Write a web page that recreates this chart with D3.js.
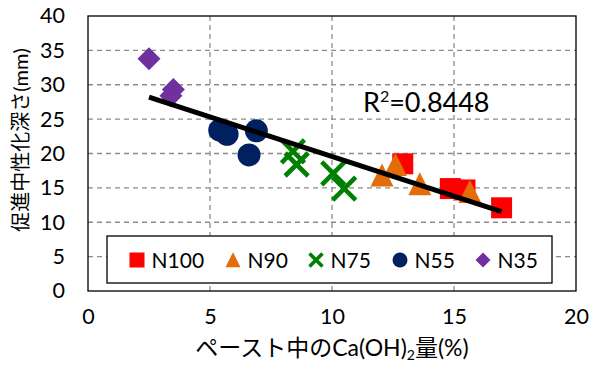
<!DOCTYPE html>
<html>
<head>
<meta charset="utf-8">
<script src="https://cdn.jsdelivr.net/npm/d3@7"></script>
<style>
  body { margin: 0; background: #fff; }
  svg text { font-family: "Lato", "Noto Sans CJK JP", sans-serif; fill: #000; }
</style>
</head>
<body>
<div id="chart"></div>
<script>
// series
var seriesNames = ["N100", "N90", "N75", "N55", "N35"];
var n100X = [12.9, 14.85, 15.45, 16.95],  n100Y = [18.5, 14.9, 14.7, 12.1];
var n90X  = [12.05, 12.6, 13.6, 15.65],   n90Y  = [16.8, 18.3, 15.5, 14.4];
var n75X  = [8.4, 8.55, 10.05, 10.5],     n75Y  = [20.3, 18.4, 17.1, 14.9];
var n55X  = [5.4, 5.7, 6.9, 6.6],         n55Y  = [23.4, 22.8, 23.3, 19.8];
var n35X  = [2.5, 3.5, 3.4],              n35Y  = [33.8, 29.3, 28.4];
var xTicks = [0, 5, 10, 15, 20];
var yTicks = [0, 5, 10, 15, 20, 25, 30, 35, 40];
var r2Label = "0.8448";

var width = 597, height = 365;
var margin = {top: 16, right: 21, bottom: 74, left: 88};
var plotW = width - margin.left - margin.right,
    plotH = height - margin.top - margin.bottom;

var x = d3.scaleLinear().domain([0, 20]).range([0, plotW]);
var y = d3.scaleLinear().domain([0, 40]).range([plotH, 0]);

var styles = {
  N100: {color: "#ff0000", shape: "square"},
  N90:  {color: "#e46c0a", shape: "triangle"},
  N75:  {color: "#008000", shape: "cross"},
  N55:  {color: "#002060", shape: "circle"},
  N35:  {color: "#7030a0", shape: "diamond"}
};

var series = [
  {name: "N100", xs: n100X, ys: n100Y},
  {name: "N90",  xs: n90X,  ys: n90Y},
  {name: "N75",  xs: n75X,  ys: n75Y},
  {name: "N55",  xs: n55X,  ys: n55Y},
  {name: "N35",  xs: n35X,  ys: n35Y}
];

var svg = d3.select("#chart").append("svg")
    .attr("width", width)
    .attr("height", height);

var g = svg.append("g").attr("transform", "translate(" + margin.left + "," + margin.top + ")");

// grid
g.append("g").selectAll("line").data(yTicks.slice(1, -1)).enter().append("line")
    .attr("x1", 0).attr("x2", plotW)
    .attr("y1", function(d){ return y(d); }).attr("y2", function(d){ return y(d); })
    .attr("stroke", "#8c8c8c").attr("stroke-width", 1.3).attr("stroke-dasharray", "5,4");
g.append("g").selectAll("line").data(xTicks.slice(1, -1)).enter().append("line")
    .attr("y1", 0).attr("y2", plotH)
    .attr("x1", function(d){ return x(d); }).attr("x2", function(d){ return x(d); })
    .attr("stroke", "#8c8c8c").attr("stroke-width", 1.3).attr("stroke-dasharray", "5,4");

// axes (labels only, frame drawn separately)
var yAxis = g.append("g").call(d3.axisLeft(y).tickValues(yTicks).tickSize(0).tickPadding(23));
var xAxis = g.append("g").attr("transform", "translate(0," + plotH + ")")
    .call(d3.axisBottom(x).tickValues(xTicks).tickSize(0).tickPadding(18));
[yAxis, xAxis].forEach(function(a){
  a.select(".domain").remove();
  a.selectAll("text").style("font-size", "21.5px").attr("fill", "#000");
});

// plot frame
g.append("rect").attr("width", plotW).attr("height", plotH)
    .attr("fill", "none").attr("stroke", "#000").attr("stroke-width", 1.3);

function marker(sel, shape, size, color, lw) {
  var s = size / 2;
  if (shape == "square") {
    sel.append("rect").attr("x", -s).attr("y", -s).attr("width", size).attr("height", size).attr("fill", color);
  } else if (shape == "triangle") {
    sel.append("path").attr("d", "M0," + (-s * 1.05) + "L" + s + "," + s * 0.95 + "L" + (-s) + "," + s * 0.95 + "Z").attr("fill", color);
  } else if (shape == "cross") {
    sel.append("path").attr("d", "M" + (-s) + "," + (-s) + "L" + s + "," + s + "M" + s + "," + (-s) + "L" + (-s) + "," + s)
      .attr("stroke", color).attr("stroke-width", lw).attr("fill", "none");
  } else if (shape == "circle") {
    sel.append("circle").attr("r", s).attr("fill", color);
  } else if (shape == "diamond") {
    sel.append("path").attr("d", "M0," + (-s) + "L" + s + ",0L0," + s + "L" + (-s) + ",0Z").attr("fill", color);
  }
}

// points
series.forEach(function(sr) {
  var st = styles[sr.name];
  sr.xs.forEach(function(xv, i) {
    var m = g.append("g").attr("transform", "translate(" + x(xv) + "," + y(sr.ys[i]) + ")");
    marker(m, st.shape, st.shape == "square" ? 21 : 23, st.color, 4.6);
  });
});

// linear trend line from all points
var allX = [], allY = [];
series.forEach(function(sr){ allX = allX.concat(sr.xs); allY = allY.concat(sr.ys); });
var mx = d3.mean(allX), my = d3.mean(allY);
var sxy = d3.sum(allX, function(v, i){ return (v - mx) * (allY[i] - my); });
var sxx = d3.sum(allX, function(v){ return (v - mx) * (v - mx); });
var slope = sxy / sxx, icpt = my - slope * mx;
var xr = d3.extent(allX);
g.append("line")
    .attr("x1", x(xr[0])).attr("y1", y(icpt + slope * xr[0]))
    .attr("x2", x(xr[1])).attr("y2", y(icpt + slope * xr[1]))
    .attr("stroke", "#000").attr("stroke-width", 5);

var r2 = g.append("text").attr("x", x(11.27)).attr("y", y(26.04)).style("font-size", "27px");
r2.append("tspan").text("R");
r2.append("tspan").attr("dy", -10).style("font-size", "16px").text("2");
r2.append("tspan").attr("dy", 10).text("=" + r2Label);

// legend
var legend = g.append("g").attr("transform", "translate(" + (107 - margin.left) + "," + (236 - margin.top) + ")");
legend.append("rect").attr("width", 445).attr("height", 47)
    .attr("fill", "#fff").attr("stroke", "#000").attr("stroke-width", 1.3);
var legX = [30, 126, 209, 293, 376];
seriesNames.forEach(function(name, i) {
  var st = styles[name];
  var item = legend.append("g").attr("transform", "translate(" + legX[i] + ",24)");
  marker(item, st.shape, st.shape == "cross" ? 13 : 15, st.color, 3.6);
  item.append("text").attr("x", 14.5).attr("y", 7.5).style("font-size", "21px").text(name);
});

// axis titles
var xt = svg.append("text").attr("x", margin.left + plotW / 2).attr("y", 356)
    .attr("text-anchor", "middle").style("font-size", "23px");
xt.append("tspan").text("ペースト中のCa(OH)");
xt.append("tspan").attr("dy", 4).style("font-size", "14px").text("2");
xt.append("tspan").attr("dy", -4).text("量(%)");

svg.append("text").attr("transform", "translate(28,140) rotate(-90)")
    .attr("text-anchor", "middle").style("font-size", "20px")
    .text("促進中性化深さ(mm)");
</script>
</body>
</html>
